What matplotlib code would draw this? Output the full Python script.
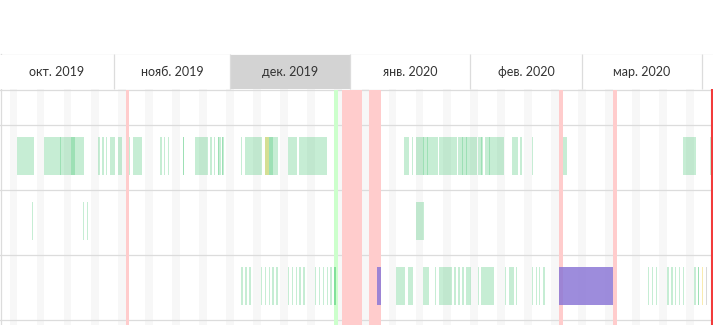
import matplotlib.pyplot as plt
import matplotlib.dates as mdates
import pandas as pd

plt.rcParams['font.family'] = ['Lato', 'DejaVu Sans']

# visible time window and "now" marker
view_start = "2019-10-02 12:30"
view_end = "2020-04-03 20:40"
now = "2020-04-03 14:00"

month_starts = ["2019-10-01", "2019-11-01", "2019-12-01", "2020-01-01",
                "2020-02-01", "2020-03-01", "2020-04-01", "2020-05-01"]
month_labels = ["окт. 2019", "нояб. 2019", "дек. 2019", "янв. 2020",
                "фев. 2020", "мар. 2020", "апр. 2020"]
selected_month = "дек. 2019"

holidays = [("2019-11-04", "2019-11-05"), ("2019-12-30", "2020-01-04"),
            ("2020-01-06", "2020-01-09"), ("2020-02-24", "2020-02-25"),
            ("2020-03-09", "2020-03-10")]
extra_workdays = [("2019-12-28", "2019-12-29")]

# lane 1
lane1_green = [
    ("2019-10-06 22:00", "2019-10-11 07:30"),
    ("2019-10-13 21:30", "2019-10-24 06:00"),
    ("2019-10-18 01:00", "2019-10-18 07:00"),
    ("2019-10-20 21:00", "2019-10-21 22:00"),
    ("2019-10-27 20:30", "2019-10-28 09:00"),
    ("2019-10-28 21:30", "2019-10-29 10:00"),
    ("2019-10-29 22:00", "2019-10-30 04:30"),
    ("2019-10-30 23:00", "2019-11-01 06:00"),
    ("2019-11-02 01:00", "2019-11-03 01:30"),
    ("2019-11-04 21:00", "2019-11-05 03:00"),
    ("2019-11-05 22:00", "2019-11-08 05:30"),
    ("2019-11-12 21:30", "2019-11-13 10:00"),
    ("2019-11-13 22:00", "2019-11-14 04:30"),
    ("2019-11-14 23:00", "2019-11-15 05:00"),
    ("2019-11-18 20:00", "2019-11-19 02:00"),
    ("2019-11-18 20:00", "2019-11-19 02:00"),
    ("2019-11-21 22:30", "2019-11-25 07:00"),
    ("2019-11-25 19:30", "2019-11-26 08:00"),
    ("2019-11-26 20:30", "2019-11-27 02:30"),
    ("2019-11-27 21:00", "2019-11-28 16:00"),
    ("2019-11-27 21:00", "2019-11-28 03:30"),
    ("2019-11-28 22:00", "2019-11-29 10:30"),
    ("2019-11-28 22:00", "2019-11-29 04:00"),
    ("2019-12-03 20:00", "2019-12-04 02:00"),
    ("2019-12-04 21:00", "2019-12-09 06:00"),
    ("2019-12-10 01:00", "2019-12-13 09:30"),
    ("2019-12-11 01:30", "2019-12-12 02:30"),
    ("2019-12-15 23:30", "2019-12-18 07:30"),
    ("2019-12-18 20:00", "2019-12-26 01:30"),
    ("2020-01-14 23:30", "2020-01-16 06:30"),
    ("2020-01-17 01:00", "2020-01-17 07:00"),
    ("2020-01-18 02:00", "2020-01-23 18:30"),
    ("2020-01-19 21:00", "2020-01-20 03:30"),
    ("2020-01-20 22:00", "2020-01-21 04:30"),
    ("2020-01-24 00:30", "2020-01-28 16:00"),
    ("2020-01-28 22:30", "2020-02-02 20:30"),
    ("2020-01-29 23:00", "2020-01-30 05:30"),
    ("2020-01-31 00:00", "2020-01-31 06:00"),
    ("2020-02-03 02:30", "2020-02-04 09:30"),
    ("2020-02-03 21:00", "2020-02-04 03:30"),
    ("2020-02-04 22:00", "2020-02-09 20:00"),
    ("2020-02-05 23:00", "2020-02-06 05:00"),
    ("2020-02-11 21:30", "2020-02-13 10:30"),
    ("2020-02-13 23:00", "2020-02-14 11:30"),
    ("2020-02-17 01:30", "2020-02-17 08:00"),
    ("2020-02-25 02:00", "2020-02-26 03:00"),
    ("2020-03-27 02:30", "2020-03-30 11:00"),
    ("2020-04-03 02:00", "2020-04-03 08:00"),
]
lane1_yellow = [("2019-12-10 01:00", "2019-12-11 01:30")]

# lane 2
lane2_green = [
    ("2019-10-10 19:00", "2019-10-11 01:30"),
    ("2019-10-23 23:30", "2019-10-24 06:00"),
    ("2019-10-25 00:30", "2019-10-25 06:30"),
    ("2020-01-18 02:00", "2020-01-20 03:30"),
]

# lane 3
lane3_green = [
    ("2019-12-03 20:00", "2019-12-04 08:30"),
    ("2019-12-04 21:00", "2019-12-05 09:00"),
    ("2019-12-05 21:30", "2019-12-06 10:00"),
    ("2019-12-09 00:00", "2019-12-09 06:00"),
    ("2019-12-10 01:00", "2019-12-10 07:00"),
    ("2019-12-11 01:30", "2019-12-11 08:00"),
    ("2019-12-11 20:30", "2019-12-12 08:30"),
    ("2019-12-12 21:00", "2019-12-13 09:30"),
    ("2019-12-15 23:30", "2019-12-16 06:00"),
    ("2019-12-17 00:30", "2019-12-17 06:30"),
    ("2019-12-18 01:00", "2019-12-18 07:30"),
    ("2019-12-18 20:00", "2019-12-19 08:00"),
    ("2019-12-19 20:30", "2019-12-20 09:00"),
    ("2019-12-22 23:00", "2019-12-23 05:30"),
    ("2019-12-24 00:00", "2019-12-24 06:00"),
    ("2019-12-25 00:30", "2019-12-25 07:00"),
    ("2019-12-26 01:30", "2019-12-26 08:00"),
    ("2019-12-26 20:00", "2019-12-27 08:30"),
    ("2019-12-27 21:00", "2019-12-28 09:30"),
    ("2019-12-27 21:00", "2019-12-28 09:30"),
    ("2020-01-12 21:30", "2020-01-15 05:30"),
    ("2020-01-16 00:00", "2020-01-17 07:00"),
    ("2020-01-19 21:00", "2020-01-21 10:30"),
    ("2020-01-22 23:30", "2020-01-23 06:00"),
    ("2020-01-24 00:30", "2020-01-27 09:00"),
    ("2020-01-27 21:30", "2020-01-28 10:00"),
    ("2020-01-28 22:30", "2020-01-29 11:00"),
    ("2020-01-29 23:00", "2020-01-30 11:30"),
    ("2020-01-31 00:00", "2020-02-01 07:00"),
    ("2020-02-03 02:30", "2020-02-03 08:30"),
    ("2020-02-03 21:00", "2020-02-07 06:00"),
    ("2020-02-10 02:00", "2020-02-10 08:00"),
    ("2020-02-11 03:00", "2020-02-12 10:00"),
    ("2020-02-12 22:30", "2020-02-13 04:30"),
    ("2020-02-17 01:30", "2020-02-17 08:00"),
    ("2020-02-18 02:30", "2020-02-18 08:30"),
    ("2020-02-18 21:00", "2020-02-19 03:00"),
    ("2020-02-19 22:00", "2020-02-20 10:00"),
    ("2020-03-18 01:30", "2020-03-18 07:30"),
    ("2020-03-19 02:00", "2020-03-19 08:30"),
    ("2020-03-20 03:00", "2020-03-20 09:00"),
    ("2020-03-22 23:00", "2020-03-23 11:30"),
    ("2020-03-24 00:00", "2020-03-24 12:30"),
    ("2020-03-25 01:00", "2020-03-25 07:00"),
    ("2020-03-26 01:30", "2020-03-26 08:00"),
    ("2020-03-27 02:30", "2020-03-27 08:30"),
    ("2020-03-29 22:30", "2020-03-30 11:00"),
    ("2020-03-30 23:30", "2020-03-31 06:00"),
    ("2020-03-30 23:30", "2020-03-31 06:00"),
]
lane3_purple = [("2020-01-08 00:00", "2020-01-09 00:30"),
                ("2020-02-24 01:00", "2020-03-09 00:00")]
lane3_yellow = [("2020-04-01 00:30", "2020-04-01 06:30")]
lane3_grey = [("2020-04-02 01:00", "2020-04-02 07:30")]

# ---- layout (pixels, y grows downward) ----
W, H = 713, 325
HEADER_TOP, HEADER_BOTTOM = 54, 89
ROW_LINES = [124, 189, 254, 319]
BAR_PAD, BAR_H = 13, 38
LINE_C = "#dcdcdc"

GREEN = ((0.2, 0.75, 0.4), 0.28)
YELLOW = ((0.94, 0.78, 0.12), 0.35)
GREY = ((0.5, 0.5, 0.5), 0.3)
PURPLE = ((0.55, 0.47, 0.84), 0.85)


def t(s):
    return mdates.date2num(pd.Timestamp(s))


fig = plt.figure(figsize=(W / 100, H / 100), dpi=100)
ax = fig.add_axes([0, 0, 1, 1])
x0, x1 = t(view_start), t(view_end)
ax.set_xlim(x0, x1)
ax.set_ylim(H, 0)
ax.axis("off")

# weekends
for sat in pd.date_range("2019-09-28", view_end, freq="W-SAT"):
    ax.fill_between([t(sat), t(sat + pd.Timedelta(days=2))], HEADER_BOTTOM, H,
                    color="#f7f7f7", lw=0, zorder=1)

# grid lines
for y in [HEADER_TOP, HEADER_BOTTOM] + ROW_LINES:
    ax.axhline(y + 0.5, color=LINE_C, lw=0.9, zorder=2)
ax.plot([0.5 / W, 0.5 / W], [HEADER_TOP, H], color=LINE_C, lw=0.9,
        transform=ax.get_yaxis_transform(), zorder=2)

# holidays / extra working days
for a, b in holidays:
    ax.fill_between([t(a), t(b)], HEADER_BOTTOM + 1, H, color="#ffcccc", lw=0, zorder=3)
for a, b in extra_workdays:
    ax.fill_between([t(a), t(b)], HEADER_BOTTOM + 1, H, color="#ccffcc", lw=0, zorder=3)

# month header tabs
for i, label in enumerate(month_labels):
    a, b = t(month_starts[i]), t(month_starts[i + 1])
    lo, hi = max(a, x0), min(b, x1)
    if hi <= lo:
        continue
    face = "#d3d3d3" if label == selected_month else "white"
    ax.fill_between([lo, hi], HEADER_TOP + 1, HEADER_BOTTOM, color=face, lw=0, zorder=4)
    if a > x0:
        ax.vlines(a, HEADER_TOP, HEADER_BOTTOM, color=LINE_C, lw=0.9, zorder=5)
    if hi - lo > 20:
        ax.text((lo + hi) / 2, (HEADER_TOP + HEADER_BOTTOM) / 2 + 1, label,
                ha="center", va="center", fontsize=9, color="#333333", zorder=6)


def draw_bars(bars, row_top, style):
    color, alpha = style
    spans = [(t(a), t(b) - t(a)) for a, b in bars]
    ax.broken_barh(spans, (row_top + BAR_PAD, BAR_H), facecolors=color,
                   alpha=alpha, lw=0, zorder=6)


draw_bars(lane1_green, ROW_LINES[0], GREEN)
draw_bars(lane1_yellow, ROW_LINES[0], YELLOW)
draw_bars(lane2_green, ROW_LINES[1], GREEN)
draw_bars(lane3_green, ROW_LINES[2], GREEN)
draw_bars(lane3_yellow, ROW_LINES[2], YELLOW)
draw_bars(lane3_grey, ROW_LINES[2], GREY)
draw_bars(lane3_purple, ROW_LINES[2], PURPLE)

# current moment
ax.vlines(t(now), HEADER_BOTTOM, H, color="#f23b3b", lw=1.5, zorder=8)

fig.savefig("out.png", dpi=100)
